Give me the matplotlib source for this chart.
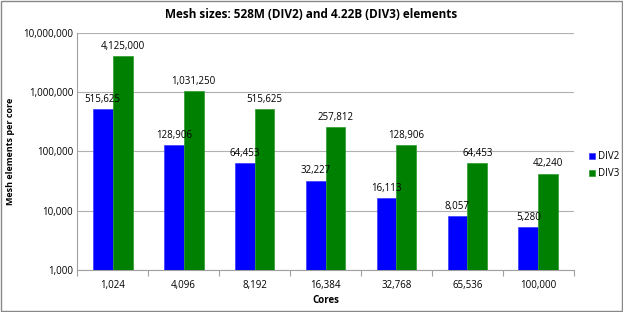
import matplotlib
matplotlib.use("Agg")
import matplotlib.pyplot as plt
import numpy as np
from matplotlib.ticker import FixedLocator, FuncFormatter

cores = ["1,024", "4,096", "8,192", "16,384", "32,768", "65,536", "100,000"]
div2 = [515625, 128906, 64453, 32227, 16113, 8057, 5280]
div3 = [4125000, 1031250, 515625, 257812, 128906, 64453, 42240]

plt.rcParams['font.family'] = ['Open Sans', 'DejaVu Sans']

fig = plt.figure(figsize=(6.23, 3.12), dpi=100)
ax = fig.add_axes([0.124, 0.135, 0.797, 0.759])

x = np.arange(len(cores))
w = 0.28
b1 = ax.bar(x - w/2, div2, w, color='#0000FF', edgecolor='#3a3aff', linewidth=0.5, label='DIV2', zorder=3)
b2 = ax.bar(x + w/2, div3, w, color='#008000', edgecolor='#2a9a2a', linewidth=0.5, label='DIV3', zorder=3)

ax.set_yscale('log')
ax.set_ylim(1000, 1e7)
ax.set_xlim(-0.5, len(cores) - 0.5)
ax.yaxis.set_major_locator(FixedLocator([1e3, 1e4, 1e5, 1e6, 1e7]))
ax.yaxis.set_minor_locator(FixedLocator([]))
ax.yaxis.set_major_formatter(FuncFormatter(lambda v, p: f"{int(round(v)):,}"))
ax.grid(axis='y', color='#b0b0b0', linewidth=0.8, zorder=0)

ax.set_xticks(x)
ax.set_xticklabels(cores)
ax.set_xticks(np.arange(-0.5, len(cores)), minor=True)
ax.tick_params(axis='x', which='major', length=0, labelsize=7, pad=7)
ax.tick_params(axis='x', which='minor', length=4, color='#a0a0a0', width=0.8)
ax.tick_params(axis='y', which='major', length=0, labelsize=7, pad=3)

for s in ['top', 'right']:
    ax.spines[s].set_visible(False)
ax.spines['left'].set_color('#a0a0a0')
ax.spines['bottom'].set_color('#a0a0a0')

for bars, vals in ((b1, div2), (b2, div3)):
    for r, v in zip(bars, vals):
        ax.annotate(f"{v:,}", (r.get_x() + r.get_width()/2, v), xytext=(0, 3),
                    textcoords='offset points', ha='center', va='bottom', fontsize=7)

ax.set_xlabel("Cores", fontsize=7, fontweight='bold', labelpad=3)
ax.set_ylabel("Mesh elements per core", fontsize=6.5, fontweight='bold', labelpad=6)
fig.text(0.5, 0.955, "Mesh sizes: 528M (DIV2) and 4.22B (DIV3) elements", ha='center', va='center',
         fontsize=8.5, fontweight='bold')

fig.legend(handles=[b1, b2], labels=['DIV2', 'DIV3'], loc='center left', bbox_to_anchor=(0.932, 0.47),
           frameon=False, fontsize=7, handlelength=0.6, handleheight=0.6, handletextpad=0.3,
           labelspacing=0.6)

fig.patches.append(plt.Rectangle((0.002, 0.003), 0.996, 0.994, transform=fig.transFigure,
                                 fill=False, edgecolor='#888888', linewidth=1))

fig.savefig("out.png", dpi=100)
